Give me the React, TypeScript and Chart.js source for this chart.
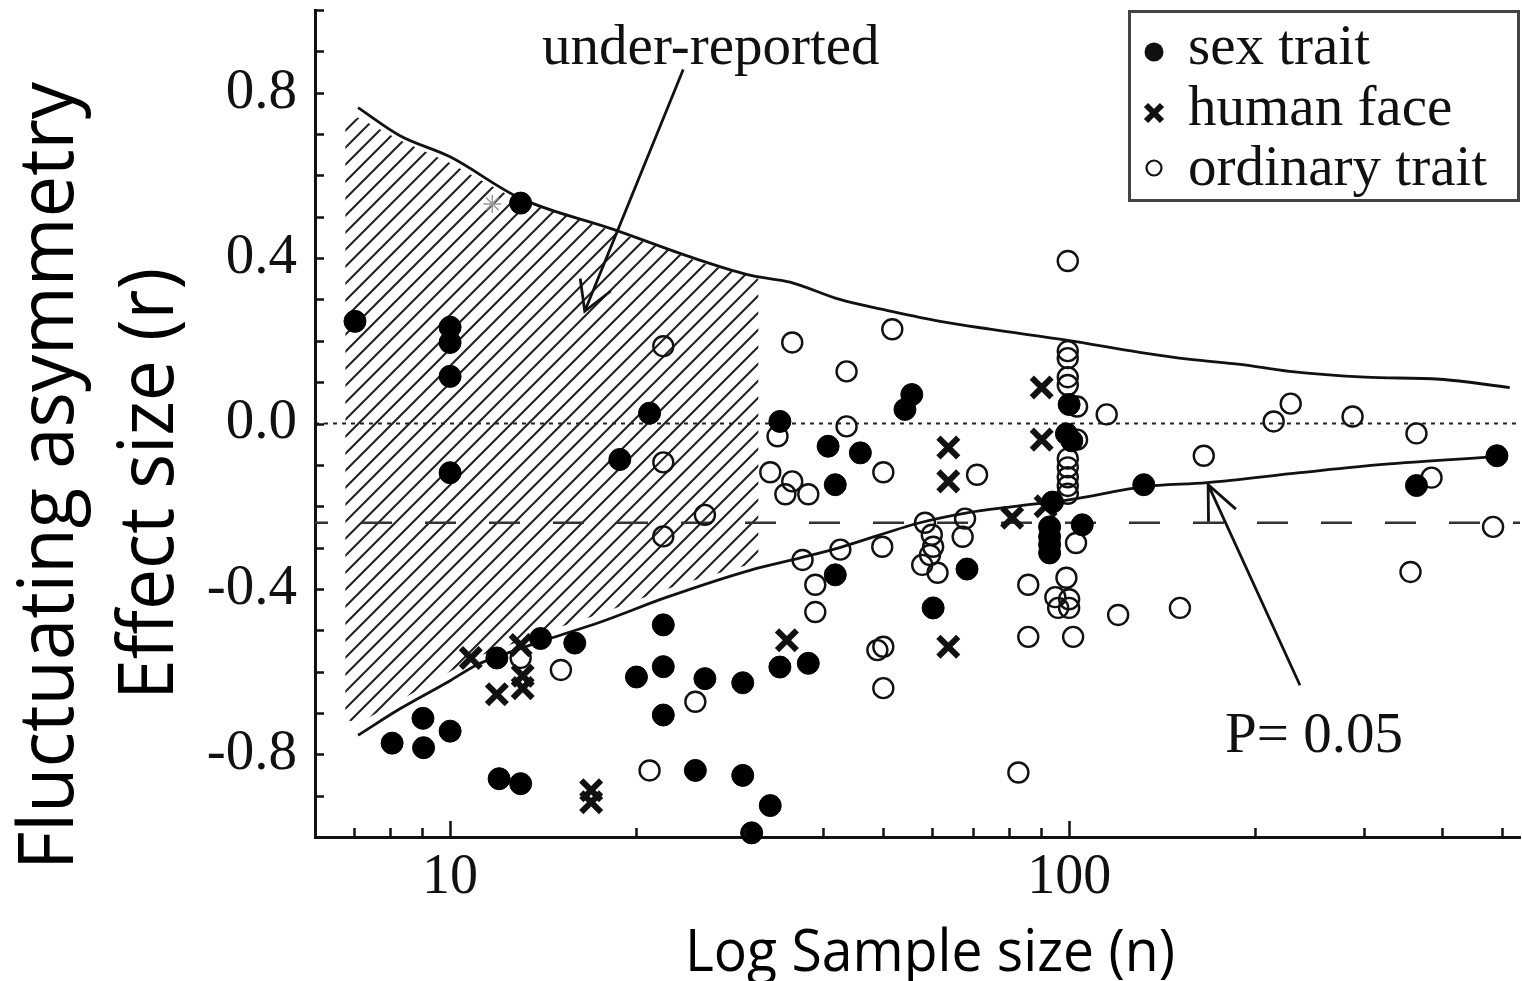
import React, { useEffect, useRef } from 'react';
import { Chart, registerables } from 'chart.js';

Chart.register(...registerables);

// ---------- data (n = sample size, r = effect size) ----------
const sexTrait: number[][] = [
  [7.02, 0.247], [10, 0.233], [10, 0.196], [10, 0.114], [13.0, 0.533], [21.0, 0.025],
  [10, -0.119], [18.8, -0.087], [22.1, -0.487], [14.0, -0.52], [15.9, -0.531], [11.9, -0.567],
  [20.0, -0.613], [22.1, -0.588], [25.8, -0.617], [29.7, -0.627], [22.1, -0.705], [9.04, -0.713],
  [10, -0.744], [8.06, -0.773], [9.06, -0.784], [12.0, -0.859], [13.0, -0.871], [24.9, -0.839],
  [29.7, -0.851], [30.7, -0.99], [32.9, -0.924], [34.1, 0.005], [40.8, -0.055], [46.0, -0.071],
  [41.9, -0.148], [55.7, 0.07], [54.3, 0.034], [41.9, -0.366], [68.4, -0.352], [60.3, -0.446],
  [34.1, -0.589], [37.9, -0.58], [100, 0.046], [99, -0.025], [101, -0.042], [94, -0.19],
  [93, -0.25], [93, -0.274], [93, -0.293], [93, -0.313], [105, -0.245], [132, -0.148],
  [364, -0.15], [491, -0.078],
];

const humanFace: number[][] = [
  [10.8, -0.567], [13.0, -0.536], [13.1, -0.61], [13.1, -0.64], [11.9, -0.655], [16.9, -0.887],
  [16.9, -0.916], [35.0, -0.524], [63.8, -0.058], [63.8, -0.14], [63.8, -0.54], [90.3, 0.087],
  [90.3, -0.039], [80.9, -0.228], [91.6, -0.2],
];

const ordinaryTrait: number[][] = [
  [22.1, 0.187], [22.1, -0.094], [25.8, -0.221], [22.1, -0.273], [15.1, -0.596], [24.9, -0.673],
  [21.0, -0.839], [13.0, -0.567], [35.7, 0.196], [51.8, 0.228], [43.7, 0.126], [33.8, -0.031],
  [43.7, -0.007], [32.9, -0.118], [35.7, -0.14], [34.8, -0.171], [37.9, -0.171], [50.1, -0.118],
  [71.0, -0.124], [58.5, -0.24], [67.9, -0.23], [67.3, -0.274], [60.0, -0.269], [60.3, -0.298],
  [59.6, -0.318], [57.9, -0.342], [61.3, -0.361], [49.9, -0.298], [42.7, -0.305], [37.1, -0.33],
  [38.9, -0.39], [38.9, -0.456], [85.9, -0.39], [99.5, 0.393], [99.5, 0.175], [99.5, 0.158],
  [99.5, 0.112], [99.5, 0.093], [99.5, -0.085], [99.5, -0.106], [99.5, -0.13], [99.5, -0.151],
  [99.5, -0.17], [103, 0.041], [103, -0.039], [115, 0.022], [102.6, -0.289], [99, -0.373],
  [95, -0.42], [100, -0.425], [96, -0.446], [100, -0.446], [120, -0.463], [85.9, -0.516],
  [101.5, -0.516], [49.0, -0.548], [50.1, -0.54], [50.1, -0.64], [82.8, -0.844], [214, 0.005],
  [228, 0.048], [287, 0.017], [364, -0.024], [165, -0.078], [385, -0.131], [484, -0.25],
  [356, -0.359], [151, -0.446],
];

const greyStar: number[][] = [[11.7, 0.531]];

const upperCurve: number[][] = [
  [7.1, 0.764], [8.3, 0.696], [10, 0.645], [12.97, 0.545], [18.3, 0.47], [25.3, 0.395],
  [30.6, 0.358], [35.4, 0.342], [42.6, 0.30], [51.4, 0.272], [61.9, 0.247], [74.5, 0.228],
  [99.5, 0.201], [130, 0.172], [157, 0.155], [189, 0.143], [227, 0.126], [301, 0.112],
  [397, 0.107], [515, 0.087],
];

const lowerCurve: number[][] = [
  [7.1, -0.754], [8.3, -0.69], [10, -0.622], [11, -0.585], [12.5, -0.553], [14.5, -0.52],
  [17.5, -0.48], [22.4, -0.42], [30.5, -0.355], [36.8, -0.325], [42.6, -0.30], [57.4, -0.24],
  [68.4, -0.216], [81.2, -0.201], [100.4, -0.184], [131.7, -0.153], [167, -0.143], [236, -0.119],
  [321, -0.099], [491, -0.08],
];

const hatchN: number[] = [6.77, 7.1, 8.3, 10, 11, 12.5, 14.5, 17.5, 22.4, 25.3, 31.5];
const hatchTop: number[] = [0.725, 0.74, 0.685, 0.63, 0.595, 0.55, 0.515, 0.475, 0.42, 0.39, 0.35];
const hatchBottom: number[] = [-0.715, -0.725, -0.67, -0.6, -0.565, -0.535, -0.5, -0.46, -0.4, -0.375, -0.335];

const xRange: number[] = [6.05, 535];
const zeroLine: number[] = [0, 0];
const refLine: number[] = [-0.24, -0.24];

const xTicks: number[] = [7, 8, 9, 10, 20, 30, 40, 50, 60, 70, 80, 90, 100, 200, 300, 400, 500];
const xLabelTicks: number[] = [10, 100];
const yTicks: number[] = [-1, -0.9, -0.8, -0.7, -0.6, -0.5, -0.4, -0.3, -0.2, -0.1, 0, 0.1, 0.2, 0.3, 0.4, 0.5, 0.6, 0.7, 0.8, 0.9, 1];
const yLabelTicks: number[] = [-0.8, -0.4, 0, 0.4, 0.8];

// annotations in data coordinates: [tailN, tailR, tipN, tipR]
const underArrow: number[] = [23.8, 0.856, 16.5, 0.2715];
const pArrow: number[] = [236, -0.633, 167.7, -0.148];
const underLabel = { text: 'under-reported', n: 14.08, r: 0.87 };
const pLabel = { text: 'P= 0.05', n: 178.6, r: -0.795 };

const legendItems: string[] = ['sex trait', 'human face', 'ordinary trait'];
const yTitleLines: string[] = ['Fluctuating asymmetry', 'Effect size (r)'];
const xTitle = 'Log Sample size (n)';

const toPts = (a: number[][]) => a.map(([x, y]) => ({ x, y }));

const SERIF = '"Liberation Serif", "Times New Roman", serif';
const SANS = '"Open Sans", "Noto Sans", sans-serif';

function drawFitText(ctx: CanvasRenderingContext2D, text: string, x: number, y: number, w: number, font: string, rot = 0) {
  ctx.save();
  ctx.font = font;
  const mw = ctx.measureText(text).width;
  ctx.translate(x, y);
  if (rot) ctx.rotate(rot);
  ctx.scale(w / mw, 1);
  ctx.textAlign = 'center';
  ctx.textBaseline = 'alphabetic';
  ctx.fillText(text, 0, 0);
  ctx.restore();
}

function drawArrow(ctx: CanvasRenderingContext2D, x1: number, y1: number, x2: number, y2: number, wing: number, angDeg: number) {
  ctx.beginPath();
  ctx.moveTo(x1, y1);
  ctx.lineTo(x2, y2);
  const back = Math.atan2(y1 - y2, x1 - x2);
  const a = (angDeg * Math.PI) / 180;
  ctx.moveTo(x2 + wing * Math.cos(back - a), y2 + wing * Math.sin(back - a));
  ctx.lineTo(x2, y2);
  ctx.lineTo(x2 + wing * Math.cos(back + a), y2 + wing * Math.sin(back + a));
  ctx.stroke();
}

const decorPlugin = {
  id: 'decor',
  afterDraw(chart: any) {
    const { ctx, chartArea, scales } = chart;
    const xs = scales.x;
    const ys = scales.y;
    ctx.save();
    ctx.strokeStyle = '#111';
    ctx.fillStyle = '#111';
    ctx.lineCap = 'butt';

    // inward ticks
    ctx.lineWidth = 2.5;
    ctx.beginPath();
    for (const v of yTicks) {
      const py = Math.round(ys.getPixelForValue(v)) + 0.5;
      ctx.moveTo(chartArea.left, py);
      ctx.lineTo(chartArea.left + 9, py);
    }
    for (const v of xTicks) {
      const px = Math.round(xs.getPixelForValue(v)) + 0.5;
      const len = xLabelTicks.includes(v) ? 16 : 9;
      ctx.moveTo(px, chartArea.bottom);
      ctx.lineTo(px, chartArea.bottom - len);
    }
    ctx.stroke();

    // arrows
    ctx.lineWidth = 2.8;
    drawArrow(ctx, xs.getPixelForValue(underArrow[0]), ys.getPixelForValue(underArrow[1]),
      xs.getPixelForValue(underArrow[2]), ys.getPixelForValue(underArrow[3]), 33, 30);
    drawArrow(ctx, xs.getPixelForValue(pArrow[0]), ys.getPixelForValue(pArrow[1]),
      xs.getPixelForValue(pArrow[2]), ys.getPixelForValue(pArrow[3]), 37, 24);

    // annotation labels
    ctx.font = `57px ${SERIF}`;
    ctx.textAlign = 'left';
    ctx.textBaseline = 'alphabetic';
    ctx.fillText(underLabel.text, xs.getPixelForValue(underLabel.n), ys.getPixelForValue(underLabel.r));
    ctx.fillText(pLabel.text, xs.getPixelForValue(pLabel.n), ys.getPixelForValue(pLabel.r));

    // legend box
    ctx.lineWidth = 3;
    ctx.strokeStyle = '#444';
    ctx.strokeRect(1129.5, 11.5, 389, 189);
    ctx.strokeStyle = '#111';
    ctx.fillStyle = '#111';
    // markers
    ctx.beginPath();
    ctx.arc(1154, 52, 9.5, 0, Math.PI * 2);
    ctx.fill();
    ctx.lineWidth = 6;
    ctx.beginPath();
    ctx.moveTo(1146, 105); ctx.lineTo(1162, 121);
    ctx.moveTo(1162, 105); ctx.lineTo(1146, 121);
    ctx.stroke();
    ctx.lineWidth = 2.2;
    ctx.beginPath();
    ctx.arc(1154, 168, 7.5, 0, Math.PI * 2);
    ctx.stroke();
    ctx.font = `57px ${SERIF}`;
    ctx.fillText(legendItems[0], 1188, 64);
    ctx.fillText(legendItems[1], 1188, 125);
    ctx.fillText(legendItems[2], 1188, 185);

    // axis titles
    ctx.fillStyle = '#000';
    drawFitText(ctx, yTitleLines[0], 73, 476, 788, `76px ${SANS}`, -Math.PI / 2);
    drawFitText(ctx, yTitleLines[1], 173, 484, 432, `76px ${SANS}`, -Math.PI / 2);
    drawFitText(ctx, xTitle, 930, 971, 490, `58px ${SANS}`);
    ctx.restore();
  },
};

export default function App() {
  const ref = useRef<HTMLCanvasElement | null>(null);

  useEffect(() => {
    document.body.style.margin = '0';
    const canvas = ref.current;
    if (!canvas) return;
    const c2d = canvas.getContext('2d') as CanvasRenderingContext2D;

    // hatch pattern
    const pc = document.createElement('canvas');
    const S = 17;
    pc.width = S;
    pc.height = S;
    const p = pc.getContext('2d') as CanvasRenderingContext2D;
    p.strokeStyle = '#222';
    p.lineWidth = 2.1;
    p.beginPath();
    p.moveTo(-2, S + 2); p.lineTo(S + 2, -2);
    p.moveTo(-2, 2); p.lineTo(2, -2);
    p.moveTo(S - 2, S + 2); p.lineTo(S + 2, S - 2);
    p.stroke();
    const pattern = c2d.createPattern(pc, 'repeat');

    const lineDs = (data: any[], extra: any) => ({
      type: 'line',
      data,
      pointRadius: 0,
      borderColor: '#111',
      borderWidth: 2.8,
      fill: false,
      clip: false,
      ...extra,
    });

    const chart = new Chart(canvas, {
      type: 'scatter',
      data: {
        datasets: [
          lineDs(hatchN.map((n, i) => ({ x: n, y: hatchTop[i] })), {
            borderWidth: 0, borderColor: 'rgba(0,0,0,0)', fill: '+1', backgroundColor: pattern, order: 20, tension: 0,
          }),
          lineDs(hatchN.map((n, i) => ({ x: n, y: hatchBottom[i] })), {
            borderWidth: 0, borderColor: 'rgba(0,0,0,0)', order: 19, tension: 0,
          }),
          lineDs(xRange.map((n, i) => ({ x: n, y: zeroLine[i] })), {
            borderWidth: 2.2, borderDash: [4, 5], borderColor: '#222', order: 10,
          }),
          lineDs(xRange.map((n, i) => ({ x: n, y: refLine[i] })), {
            borderWidth: 2.6, borderDash: [31, 33], borderDashOffset: 18, borderColor: '#333', order: 10,
          }),
          lineDs(toPts(upperCurve), { cubicInterpolationMode: 'monotone', order: 9 }),
          lineDs(toPts(lowerCurve), { cubicInterpolationMode: 'monotone', order: 9 }),
          {
            label: 'ordinary trait',
            data: toPts(ordinaryTrait),
            pointStyle: 'circle',
            pointRadius: 10,
            backgroundColor: 'rgba(255,255,255,0)',
            borderColor: '#111',
            borderWidth: 2.4,
            clip: false,
            order: 3,
          },
          {
            label: 'human face',
            data: toPts(humanFace),
            pointStyle: 'crossRot',
            pointRadius: 14,
            borderColor: '#111',
            borderWidth: 6,
            clip: false,
            order: 2,
          },
          {
            label: 'sex trait',
            data: toPts(sexTrait),
            pointStyle: 'circle',
            pointRadius: 11,
            backgroundColor: '#000',
            borderColor: '#000',
            borderWidth: 1,
            clip: false,
            order: 1,
          },
          {
            label: 'grey',
            data: toPts(greyStar),
            pointStyle: 'star',
            pointRadius: 9,
            borderColor: '#999',
            backgroundColor: '#999',
            borderWidth: 1.5,
            clip: false,
            order: 4,
          },
        ] as any,
      },
      options: {
        animation: false,
        responsive: false,
        events: [],
        layout: { autoPadding: false, padding: { top: 10, right: 2, left: 0, bottom: 0 } },
        plugins: { legend: { display: false }, tooltip: { enabled: false } },
        scales: {
          x: {
            type: 'logarithmic',
            min: xRange[0],
            max: xRange[1],
            grid: { display: false, drawTicks: false },
            border: { display: true, color: '#111', width: 3 },
            afterBuildTicks: (s: any) => { s.ticks = xTicks.map((v) => ({ value: v })); },
            afterFit: (s: any) => { s.height = 144; s.paddingLeft = 0; s.paddingRight = 0; },
            ticks: {
              autoSkip: false,
              maxRotation: 0,
              padding: 8,
              color: '#111',
              font: { family: SERIF, size: 56 },
              callback: (v: any) => (xLabelTicks.includes(Number(v)) ? String(v) : ''),
            },
          },
          y: {
            type: 'linear',
            min: -1,
            max: 1,
            grid: { display: false, drawTicks: false },
            border: { display: true, color: '#111', width: 3 },
            afterBuildTicks: (s: any) => { s.ticks = yTicks.map((v) => ({ value: v })); },
            afterFit: (s: any) => { s.width = 315; s.paddingTop = 0; s.paddingBottom = 0; },
            ticks: {
              autoSkip: false,
              padding: 18,
              color: '#111',
              font: { family: SERIF, size: 57 },
              callback: (v: any) => (yLabelTicks.some((t) => Math.abs(t - Number(v)) < 1e-6) ? Number(v).toFixed(1) : ''),
            },
          },
        },
      } as any,
      plugins: [decorPlugin],
    });
    return () => chart.destroy();
  }, []);

  return (
    <div style={{ width: 1522, height: 981, background: '#fff' }}>
      <canvas ref={ref} width={1522} height={981} style={{ display: 'block' }} />
    </div>
  );
}
